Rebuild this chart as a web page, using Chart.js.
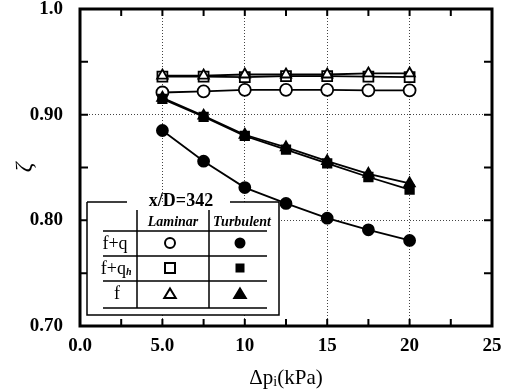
<!DOCTYPE html>
<html>
<head>
<meta charset="utf-8">
<script src="https://cdn.jsdelivr.net/npm/chart.js@4.4.0/dist/chart.umd.min.js"></script>
<style>
  html, body { margin: 0; padding: 0; background: #fff; }
  #wrap { width: 509px; height: 390px; }
</style>
</head>
<body>
<div id="wrap"><canvas id="myChart"></canvas></div>
<script>
// data (x/D = 342)
const pressure = [5, 7.5, 10, 12.5, 15, 17.5, 20];
const laminarFQ = [0.921, 0.922, 0.9235, 0.9235, 0.9235, 0.923, 0.923];
const laminarFQh = [0.936, 0.936, 0.9355, 0.9365, 0.9365, 0.936, 0.9355];
const laminarF = [0.937, 0.937, 0.938, 0.938, 0.938, 0.939, 0.939];
const turbulentFQ = [0.885, 0.856, 0.831, 0.816, 0.802, 0.791, 0.781];
const turbulentFQh = [0.915, 0.898, 0.880, 0.867, 0.854, 0.841, 0.829];
const turbulentF = [0.916, 0.899, 0.881, 0.869, 0.856, 0.844, 0.835];

const xTickLabels = { 0: '0.0', 5: '5.0', 10: '10', 15: '15', 20: '20', 25: '25' };
const yTickLabels = { 70: '0.70', 80: '0.80', 90: '0.90', 100: '1.0' };
const xGridAt = [5, 10, 15, 20];
const yGridAt = [80, 90];

const serif = "'Liberation Serif', 'Times New Roman', serif";

function series(values) {
  return values.map((v, i) => ({ x: pressure[i], y: v }));
}

function makeSet(label, values, style, filled, radius) {
  return {
    label: label,
    data: series(values),
    borderColor: '#000',
    borderWidth: 1.8,
    pointStyle: style,
    pointRadius: radius,
    pointBorderWidth: 1.8,
    pointBorderColor: '#000',
    pointBackgroundColor: filled ? '#000' : '#fff',
    showLine: true,
    tension: 0,
  };
}

function drawSymbol(ctx, kind, filled, x, y, r) {
  ctx.beginPath();
  if (kind === 'circle') {
    ctx.arc(x, y, r, 0, Math.PI * 2);
  } else if (kind === 'rect') {
    ctx.rect(x - r, y - r, 2 * r, 2 * r);
  } else {
    ctx.moveTo(x, y - r * 1.1);
    ctx.lineTo(x + r * 1.15, y + r * 0.8);
    ctx.lineTo(x - r * 1.15, y + r * 0.8);
    ctx.closePath();
  }
  ctx.fillStyle = filled ? '#000' : '#fff';
  ctx.fill();
  ctx.lineWidth = 2;
  ctx.strokeStyle = '#000';
  ctx.stroke();
}

const framePlugin = {
  id: 'frame',
  afterDatasetsDraw(chart) {
    const ctx = chart.ctx;
    const a = chart.chartArea;
    const xs = chart.scales.x;
    const ys = chart.scales.y;
    ctx.save();
    ctx.strokeStyle = '#000';

    // inward ticks
    ctx.lineWidth = 2;
    ctx.beginPath();
    xs.ticks.forEach((t) => {
      const px = xs.getPixelForValue(t.value);
      ctx.moveTo(px, a.bottom); ctx.lineTo(px, a.bottom - 7);
      ctx.moveTo(px, a.top); ctx.lineTo(px, a.top + 7);
    });
    ys.ticks.forEach((t) => {
      const py = ys.getPixelForValue(t.value);
      ctx.moveTo(a.left, py); ctx.lineTo(a.left + 8, py);
      ctx.moveTo(a.right, py); ctx.lineTo(a.right - 8, py);
    });
    ctx.stroke();

    // frame
    ctx.lineWidth = 3;
    ctx.strokeRect(a.left, a.top, a.right - a.left, a.bottom - a.top);

    // legend table
    const L = 87, R = 279, T = 202, B = 315;
    ctx.fillStyle = '#fff';
    ctx.fillRect(L, T, R - L, B - T);
    ctx.lineWidth = 1.5;
    ctx.beginPath();
    ctx.moveTo(L, T); ctx.lineTo(127, T);
    ctx.moveTo(230, T); ctx.lineTo(R, T);
    ctx.moveTo(R, T); ctx.lineTo(R, B);
    ctx.lineTo(L, B); ctx.lineTo(L, T);
    ctx.moveTo(137, 210); ctx.lineTo(137, 308);
    ctx.moveTo(209, 210); ctx.lineTo(209, 308);
    [231, 256, 281, 308].forEach((y) => {
      ctx.moveTo(103, y); ctx.lineTo(267, y);
    });
    ctx.stroke();

    ctx.fillStyle = '#000';
    ctx.textAlign = 'center';
    ctx.textBaseline = 'middle';
    ctx.font = 'bold 18px ' + serif;
    ctx.fillText('x/D=342', 181, 201);
    ctx.font = 'italic bold 14px ' + serif;
    ctx.fillText('Laminar', 173, 222);
    ctx.fillText('Turbulent', 242, 222);
    ctx.font = '18px ' + serif;
    ctx.fillText('f+q', 115, 244);
    ctx.textAlign = 'right';
    ctx.fillText('f+q', 126, 269);
    ctx.textAlign = 'left';
    ctx.font = 'italic bold 10px ' + serif;
    ctx.fillText('h', 126, 272);
    ctx.textAlign = 'center';
    ctx.font = '18px ' + serif;
    ctx.fillText('f', 117, 294);

    drawSymbol(ctx, 'circle', false, 170, 243, 5);
    drawSymbol(ctx, 'circle', true, 240, 243, 4.5);
    drawSymbol(ctx, 'rect', false, 170, 268, 5);
    drawSymbol(ctx, 'rect', true, 240, 268, 3.5);
    drawSymbol(ctx, 'tri', false, 170, 294, 5);
    drawSymbol(ctx, 'tri', true, 240, 294, 5);

    // x axis title with subscript
    ctx.fillStyle = '#000';
    ctx.textBaseline = 'alphabetic';
    ctx.textAlign = 'left';
    const cx = (a.left + a.right) / 2;
    ctx.font = '21px ' + serif;
    const w1 = ctx.measureText('\u0394p').width;
    const w3 = ctx.measureText('(kPa)').width;
    ctx.font = '14px ' + serif;
    const w2 = ctx.measureText('i').width;
    let x0 = cx - (w1 + w2 + w3) / 2;
    const base = 384;
    ctx.font = '21px ' + serif;
    ctx.fillText('\u0394p', x0, base);
    ctx.font = '14px ' + serif;
    ctx.fillText('i', x0 + w1, base + 2);
    ctx.font = '21px ' + serif;
    ctx.fillText('(kPa)', x0 + w1 + w2, base);
    ctx.restore();
  },
};

const ctx = document.getElementById('myChart').getContext('2d');
const myChart = new Chart(ctx, {
  type: 'scatter',
  data: {
    datasets: [
      makeSet('Turbulent f+q', turbulentFQ, 'circle', true, 5.5),
      makeSet('Turbulent f+qh', turbulentFQh, 'rect', true, 6),
      makeSet('Turbulent f', turbulentF, 'triangle', true, 6),
      makeSet('Laminar f', laminarF, 'triangle', false, 6),
      makeSet('Laminar f+qh', laminarFQh, 'rect', false, 7),
      makeSet('Laminar f+q', laminarFQ, 'circle', false, 6),
    ],
  },
  options: {
    responsive: true,
    maintainAspectRatio: false,
    animation: false,
    layout: { padding: { left: 10, right: 17, top: 9, bottom: 0 } },
    plugins: {
      legend: { display: false },
      tooltip: { enabled: false },
    },
    scales: {
      x: {
        type: 'linear',
        min: 0,
        max: 25,
        afterFit(s) { s.height = 64; s.paddingLeft = 0; s.paddingRight = 0; },
        ticks: {
          stepSize: 2.5,
          autoSkip: false,
          maxRotation: 0,
          padding: 9,
          color: '#000',
          font: { family: serif, size: 19, weight: 'bold' },
          callback: (v) => xTickLabels[v] ?? '',
        },
        grid: {
          drawTicks: false,
          lineWidth: 1,
          color: (c) => (c.tick && xGridAt.includes(c.tick.value) ? '#444' : 'rgba(0,0,0,0)'),
        },
        border: { display: false, dash: [1, 2] },
      },
      y: {
        min: 0.7,
        max: 1.0,
        afterFit(s) { s.width = 70; s.paddingTop = 0; s.paddingBottom = 0; },
        ticks: {
          stepSize: 0.05,
          autoSkip: false,
          padding: 17,
          color: '#000',
          font: { family: serif, size: 19, weight: 'bold' },
          callback: (v) => yTickLabels[Math.round(v * 100)] ?? '',
        },
        grid: {
          drawTicks: false,
          lineWidth: 1,
          color: (c) => (c.tick && yGridAt.includes(Math.round(c.tick.value * 100)) ? '#444' : 'rgba(0,0,0,0)'),
        },
        border: { display: false, dash: [1, 2] },
        title: {
          display: true,
          text: '\u03B6',
          color: '#000',
          padding: { top: 0, bottom: 0 },
          font: { family: serif, size: 24, style: 'italic' },
        },
      },
    },
  },
  plugins: [framePlugin],
});
</script>
</body>
</html>
